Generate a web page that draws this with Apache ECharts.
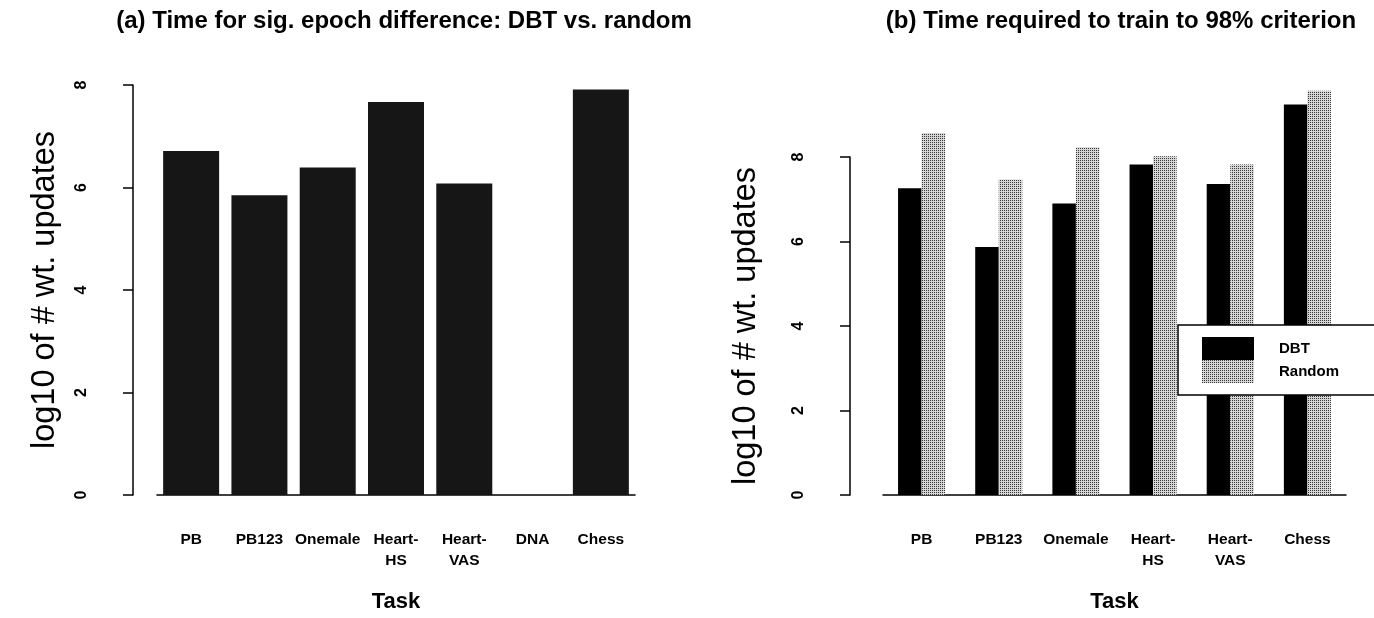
<!DOCTYPE html>
<html>
<head>
<meta charset="utf-8">
<script src="https://cdn.jsdelivr.net/npm/echarts@6/dist/echarts.min.js"></script>
<style>
  html, body { margin: 0; padding: 0; background: #fff; }
  #chart { width: 1374px; height: 618px; }
</style>
</head>
<body>
<div id="chart"></div>
<script>
// panel (a): time for significant epoch difference
const tasksA = ['PB', 'PB123', 'Onemale', 'Heart-\nHS', 'Heart-\nVAS', 'DNA', 'Chess'];
const sigDiff = [6.71, 5.85, 6.39, 7.67, 6.08, 0, 7.91];

// panel (b): time to 98% criterion
const tasksB = ['PB', 'PB123', 'Onemale', 'Heart-\nHS', 'Heart-\nVAS', 'Chess'];
const dbt = [7.26, 5.87, 6.90, 7.82, 7.36, 9.24];
const random = [8.57, 7.47, 8.23, 8.02, 7.82, 9.57];

const yTicks = [0, 2, 4, 6, 8];

const font = "'Liberation Sans', Arial, Helvetica, sans-serif";

const chart = echarts.init(document.getElementById('chart'));

const randomStyle = {
    color: '#d6d6d6',
    decal: {
        symbol: 'rect',
        symbolSize: 1,
        color: 'rgba(0,0,0,0.75)',
        dashArrayX: [1, 1],
        dashArrayY: [1, 1],
        rotation: 0
    }
};

function yAxisFor(gridIndex, offset, nameGap) {
    return {
        type: 'value',
        gridIndex: gridIndex,
        min: yTicks[0],
        max: yTicks[yTicks.length - 1],
        interval: 2,
        offset: offset,
        name: 'log10 of # wt. updates',
        nameLocation: 'middle',
        nameGap: nameGap,
        nameTextStyle: { fontFamily: font, fontSize: 32.5, color: '#000' },
        axisLine: { show: true, lineStyle: { color: '#000', width: 1.5 } },
        axisTick: { show: true, length: 10, lineStyle: { color: '#000', width: 1.5 } },
        axisLabel: {
            rotate: 90, margin: 43,
            fontFamily: font, fontSize: 16, fontWeight: 'bold', color: '#000'
        },
        splitLine: { show: false }
    };
}

function xAxisFor(gridIndex, cats) {
    return {
        type: 'category',
        gridIndex: gridIndex,
        data: cats,
        name: 'Task',
        nameLocation: 'middle',
        nameGap: 96,
        nameTextStyle: { fontFamily: font, fontSize: 22, fontWeight: 'bold', color: '#000' },
        axisLine: { show: true, lineStyle: { color: '#000', width: 1.5 } },
        axisTick: { show: false },
        axisLabel: {
            interval: 0, margin: 34, lineHeight: 21,
            fontFamily: font, fontSize: 15.5, fontWeight: 'bold', color: '#000'
        }
    };
}

const option = {
    backgroundColor: '#fff',
    animation: false,
    title: [
        {
            text: '(a) Time for sig. epoch difference: DBT vs. random',
            left: 399, top: 4, textAlign: 'center',
            textStyle: { fontFamily: font, fontSize: 24, fontWeight: 'bold', color: '#000' }
        },
        {
            text: '(b) Time required to train to 98% criterion',
            left: 1116, top: 4, textAlign: 'center',
            textStyle: { fontFamily: font, fontSize: 24, fontWeight: 'bold', color: '#000' }
        }
    ],
    legend: {
        data: ['DBT', 'Random'],
        orient: 'vertical',
        left: 1178, top: 325,
        itemWidth: 52, itemHeight: 23, itemGap: 0,
        padding: [12, 120, 12, 24],
        backgroundColor: '#fff',
        borderColor: '#000', borderWidth: 1.5,
        icon: 'rect',
        textStyle: { fontFamily: font, fontSize: 15, fontWeight: 'bold', color: '#000', padding: [0, 0, 0, 20] }
    },
    grid: [
        { left: 157, right: 739, top: 85, bottom: 122 },
        { left: 883, right: 28, top: 157, bottom: 123 }
    ],
    xAxis: [xAxisFor(0, tasksA), xAxisFor(1, tasksB)],
    yAxis: [yAxisFor(0, 24, 71), yAxisFor(1, 33, 87)],
    series: [
        {
            name: 'sig',
            type: 'bar',
            xAxisIndex: 0, yAxisIndex: 0,
            data: sigDiff,
            barCategoryGap: '18%',
            itemStyle: { color: '#161616' }
        },
        {
            name: 'DBT',
            type: 'bar',
            xAxisIndex: 1, yAxisIndex: 1,
            data: dbt,
            clip: false,
            barGap: '0%',
            barCategoryGap: '39%',
            itemStyle: { color: '#000' }
        },
        {
            name: 'Random',
            type: 'bar',
            xAxisIndex: 1, yAxisIndex: 1,
            data: random,
            clip: false,
            barGap: '0%',
            barCategoryGap: '39%',
            itemStyle: randomStyle
        }
    ]
};

chart.setOption(option);
</script>
</body>
</html>
